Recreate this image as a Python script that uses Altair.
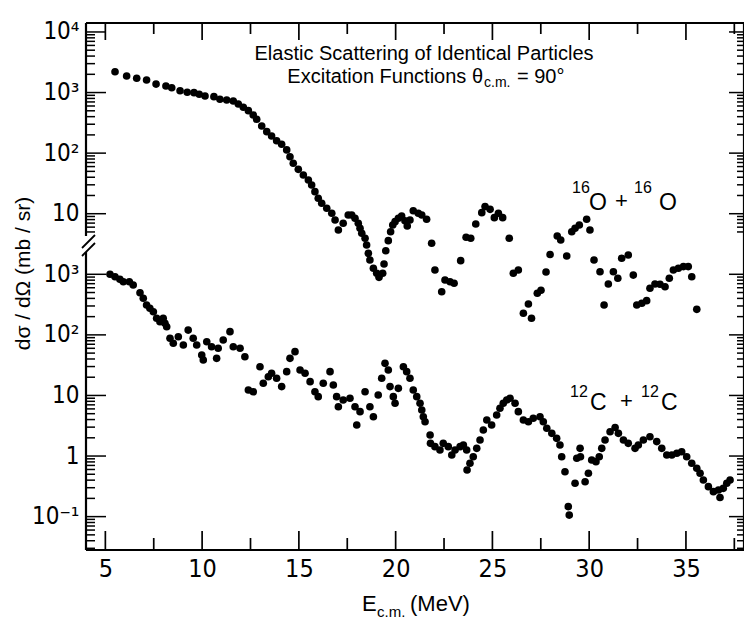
import altair as alt
import pandas as pd
import numpy as np

# ---------------- data ----------------
# 16O + 16O  excitation function, theta_cm = 90 deg  (mb/sr)
E_O = [5.50, 6.10, 6.62, 7.13, 7.62, 8.13, 8.43, 8.86, 9.23, 9.58,
       9.85, 10.15, 10.61, 10.92, 11.27, 11.61, 11.87, 12.13, 12.39, 12.64,
       12.82, 13.08, 13.34, 13.59, 13.85, 14.11, 14.37, 14.54, 14.71, 14.97,
       15.23, 15.49, 15.66, 15.83, 16.00, 16.18, 16.44, 16.70, 16.87, 17.04,
       17.29, 17.55, 17.73, 17.90, 18.07, 18.16, 18.25, 18.42, 18.50, 18.59,
       18.67, 18.85, 19.02, 19.14, 19.33, 19.40, 19.49, 19.62, 19.74, 19.85,
       19.97, 20.14, 20.31, 20.48, 20.60, 20.74, 20.91, 21.17, 21.35, 21.60,
       21.86, 22.03, 22.38, 22.55, 22.81, 23.02, 23.36, 23.64, 23.88, 24.14,
       24.45, 24.62, 24.88, 25.10, 25.31, 25.53, 25.87, 26.08, 26.34, 26.60,
       26.86, 27.02, 27.32, 27.51, 27.77, 27.98, 28.35, 28.53, 28.84, 29.10,
       29.27, 29.49, 29.87, 30.04, 30.25, 30.56, 30.77, 30.99, 31.25, 31.48,
       31.68, 32.02, 32.28, 32.46, 32.72, 32.97, 33.14, 33.40, 33.66, 33.92,
       34.14, 34.35, 34.61, 34.87, 35.12, 35.30, 35.56]
S_O = [2210, 1880, 1720, 1610, 1380, 1280, 1200, 1070, 1010, 995,
       935, 877, 855, 774, 754, 726, 647, 571, 502, 426,
       362, 281, 226, 192, 160, 140, 113, 87.3, 68, 54,
       43.6, 36, 29.8, 23.1, 18, 14.9, 12.3, 10.2, 7.88, 5.39,
       6.95, 9.53, 9.5, 8.40, 6.95, 5.75, 4.75, 3.93, 3.05, 2.22,
       1.72, 1.26, 1.04, 0.89, 1.04, 1.48, 2.45, 3.59, 5.05, 6.51,
       7.39, 8.40, 9.17, 7.67, 6.27, 7.88, 11.2, 10.2, 9.53, 8.09,
       3.25, 1.18, 0.516, 0.805, 0.755, 0.71, 1.68, 4.08, 3.93, 6.77,
       10.4, 13.1, 11.8, 8.60, 10.2, 8.60, 3.93, 1.04, 1.18, 0.227,
       0.323, 0.188, 0.486, 0.544, 1.09, 2.12, 4.29, 3.68, 2.00, 5.05,
       5.75, 6.51, 8.09, 5.39, 1.72, 1.10, 0.311, 0.692, 1.10, 0.859,
       1.84, 2.08, 0.97, 0.311, 0.332, 0.367, 0.587, 0.692, 0.684, 0.624,
       0.859, 1.18, 1.26, 1.34, 1.34, 0.913, 0.264]

# 12C + 12C  excitation function, theta_cm = 90 deg  (mb/sr)
E_C = [5.24, 5.50, 5.75, 5.93, 6.24, 6.44, 6.79, 6.96, 7.13, 7.30,
       7.48, 7.65, 7.82, 7.99, 8.08, 8.17, 8.34, 8.51, 8.77, 9.03,
       9.28, 9.54, 9.72, 9.98, 10.06, 10.24, 10.49, 10.75, 10.83, 11.09,
       11.44, 11.61, 11.96, 12.21, 12.39, 12.64, 12.99, 13.16, 13.42, 13.59,
       13.85, 14.11, 14.37, 14.54, 14.80, 15.06, 15.32, 15.58, 15.83, 16.00,
       16.26, 16.61, 16.78, 16.95, 17.04, 17.29, 17.64, 17.90, 17.99, 18.16,
       18.42, 18.67, 18.85, 19.10, 19.28, 19.45, 19.62, 19.71, 19.88, 19.97,
       20.14, 20.40, 20.57, 20.74, 20.91, 21.09, 21.26, 21.35, 21.43, 21.52,
       21.78, 21.80, 22.03, 22.29, 22.46, 22.72, 22.90, 23.07, 23.33, 23.50,
       23.67, 23.69, 23.84, 24.01, 24.19, 24.36, 24.53, 24.71, 24.96, 25.22,
       25.39, 25.56, 25.74, 25.91, 26.17, 26.34, 26.60, 26.86, 27.11, 27.46,
       27.63, 27.81, 28.07, 28.32, 28.49, 28.58, 28.75, 28.92, 28.97, 29.27,
       29.36, 29.53, 29.55, 29.79, 29.96, 30.13, 30.35, 30.52, 30.65, 30.82,
       31.08, 31.34, 31.51, 31.77, 32.02, 32.37, 32.54, 32.80, 33.14, 33.49,
       33.75, 34.01, 34.27, 34.53, 34.78, 35.04, 35.30, 35.56, 35.73, 35.90,
       36.16, 36.42, 36.68, 36.76, 36.93, 37.11, 37.28]
S_C = [1000, 913, 827, 755, 755, 666, 497, 402, 311, 275,
       241, 188, 165, 188, 155, 136, 87.9, 72.6, 93.3, 68.1,
       120, 87.9, 68.1, 46.5, 38.5, 77.1, 63.8, 41.0, 60.0, 82.3,
       113, 63.8, 60.0, 43.6, 12.3, 11.5, 29.8, 15.9, 20.4, 23.2,
       19.2, 14.0, 24.7, 41.0, 52.8, 26.3, 23.2, 16.9, 11.5, 9.55,
       15.9, 24.7, 14.9, 9.55, 6.52, 8.41, 8.97, 6.52, 3.25, 5.40,
       11.5, 6.52, 4.46, 10.2, 19.2, 33.9, 26.3, 14.0, 9.55, 7.43,
       13.1, 29.8, 24.7, 19.2, 12.3, 9.55, 7.43, 5.75, 4.46, 3.69,
       2.22, 1.62, 1.43, 1.26, 1.62, 1.43, 1.04, 1.26, 1.43, 1.52,
       1.26, 0.589, 0.759, 0.975, 1.34, 1.84, 2.69, 3.94, 3.25, 4.76,
       6.14, 7.43, 8.41, 8.97, 7.43, 5.40, 3.94, 3.69, 4.20, 4.46,
       3.69, 2.87, 2.37, 1.96, 1.52, 0.975, 0.551, 0.146, 0.106, 0.355,
       0.918, 1.34, 0.975, 0.377, 0.519, 0.861, 0.807, 0.975, 1.34, 1.84,
       2.52, 2.96, 2.37, 1.84, 1.62, 1.34, 1.52, 1.84, 2.08, 1.73,
       1.34, 1.04, 1.04, 1.11, 1.18, 0.975, 0.759, 0.628, 0.519, 0.402,
       0.312, 0.258, 0.275, 0.207, 0.293, 0.355, 0.402]

# axis ticks / labels
X_MAJOR = [5, 10, 15, 20, 25, 30, 35]
X_MINOR = [7.5, 12.5, 17.5, 22.5, 27.5, 32.5, 37.5]
Y_LOWER_MAJOR = [0.1, 1, 10, 100, 1000]          # 12C+12C scale
Y_UPPER_MAJOR = [10, 100, 1000, 10000]           # 16O+16O scale
OFFSET = 1000.0   # upper curve drawn three decades above the lower one

# ---------------- geometry ----------------
W, H = 658, 527
LOGMIN, LOGMAX = -1.551, 7.148

df = pd.concat([
    pd.DataFrame({"E": E_O, "v": np.array(S_O) * OFFSET, "set": "16O+16O"}),
    pd.DataFrame({"E": E_C, "v": np.array(S_C, dtype=float), "set": "12C+12C"}),
], ignore_index=True)

xs = alt.Scale(domain=[4, 38], nice=False, zero=False)
ys = alt.Scale(type="log", domain=[10 ** LOGMIN, 10 ** LOGMAX], nice=False)

NARROW = "Liberation Sans Narrow, Arial Narrow, DejaVu Sans Condensed, Liberation Sans, sans-serif"
SANS = "Liberation Sans, Arial, Helvetica, sans-serif"

ylab_vals = Y_LOWER_MAJOR + [v * OFFSET for v in Y_UPPER_MAJOR]
label_expr = ("datum.value < 0.5 ? '10⁻¹' : datum.value < 5 ? '1' : datum.value < 50 ? '10' : "
              "datum.value < 500 ? '10²' : datum.value < 5000 ? '10³' : datum.value < 50000 ? '10' : "
              "datum.value < 500000 ? '10²' : datum.value < 5000000 ? '10³' : '10⁴'")

xaxis = alt.Axis(values=X_MAJOR, title=None, ticks=False, domain=False, grid=False,
                 labelFont=NARROW, labelFontSize=25, labelPadding=6, labelColor="black",
                 format="d", labelFlush=False)
yaxis = alt.Axis(values=ylab_vals, labelExpr=label_expr, ticks=False, domain=False, grid=False,
                 labelFont=NARROW, labelFontSize=24, labelPadding=7, labelColor="black",
                 title="dσ / dΩ  (mb / sr)", titleFont=SANS, titleFontSize=21,
                 titleFontWeight="normal", titleColor="black", titleAngle=270,
                 titleX=-63, titleY=250, titleAlign="center", titleBaseline="middle")

points = alt.Chart(df).mark_circle(size=58, color="black", opacity=1).encode(
    x=alt.X("E:Q", scale=xs, axis=xaxis),
    y=alt.Y("v:Q", scale=ys, axis=yaxis),
)

# tick positions (in data units)
lower_minor = [m * 10.0 ** k for k in range(-2, 3) for m in range(2, 10)]
lower_minor = [v for v in lower_minor if v > 10 ** LOGMIN]
upper_minor = [m * 10.0 ** k * OFFSET for k in range(0, 4) for m in range(2, 10)]
upper_minor = [v for v in upper_minor if v >= 5 * OFFSET and v < 10 ** LOGMAX]
y_major = Y_LOWER_MAJOR + [v * OFFSET for v in Y_UPPER_MAJOR]
y_minor = lower_minor + upper_minor


def xticks(vals, y1, y2):
    return alt.Chart(pd.DataFrame({"E": vals})).mark_rule(color="black", strokeWidth=1.7).encode(
        x=alt.X("E:Q", scale=xs, axis=xaxis), y=alt.value(y1), y2=alt.value(y2))


def yticks(vals, x1, x2):
    return alt.Chart(pd.DataFrame({"v": vals})).mark_rule(color="black", strokeWidth=1.5).encode(
        y=alt.Y("v:Q", scale=ys, axis=yaxis), x=alt.value(x1), x2=alt.value(x2))


one = pd.DataFrame({"k": [0]})


def seg(x1, y1, x2, y2, w=2.2):
    return alt.Chart(one).mark_rule(color="black", strokeWidth=w).encode(
        x=alt.value(x1), y=alt.value(y1), x2=alt.value(x2), y2=alt.value(y2))


def txt(s, x, y, size, align="left", font=SANS):
    return alt.Chart(pd.DataFrame({"t": [s]})).mark_text(
        align=align, baseline="alphabetic", font=font, fontSize=size, color="black").encode(
        text="t:N", x=alt.value(x), y=alt.value(y))


layers = [
    # ticks
    xticks(X_MAJOR, H, H - 19), xticks(X_MINOR, H, H - 12),
    xticks(X_MAJOR, 0, 17), xticks(X_MINOR, 0, 11),
    yticks(y_major, 0, 20), yticks(y_minor, 0, 9),
    yticks(y_major, W, W - 15), yticks(y_minor, W, W - 7),
    # frame with broken left axis
    seg(0, 0, W, 0), seg(0, H, W, H), seg(W, 0, W, H),
    seg(0, 0, 0, 213), seg(0, 229, 0, H),
    seg(-4, 225, 9, 212, 1.8), seg(-4, 233, 9, 220, 1.8),
    points,
    # title
    txt("Elastic Scattering of Identical Particles", 338, 36.5, 20, align="center"),
    txt("Excitation Functions  θ", 397, 60, 20, align="right"),
    txt("c.m.", 398, 64, 14),
    txt("= 90°", 431, 60, 20),
    # series labels
    txt("16", 486, 170, 16), txt("O", 503, 187, 23), txt("+", 529, 185, 22),
    txt("16", 548, 170, 16), txt("O", 573, 187, 23),
    txt("12", 484, 374, 16), txt("C", 504, 387, 23), txt("+", 534, 385, 22),
    txt("12", 555, 374, 16), txt("C", 575, 387, 23),
    # x-axis title
    txt("E", 276, 588, 22), txt("c.m.", 291, 594, 15), txt("(MeV)", 324, 588, 22),
]

chart = alt.layer(*layers).properties(
    width=W, height=H,
    padding={"left": 86, "top": 23, "right": 0, "bottom": 72},
    autosize=alt.AutoSizeParams(type="none"),
    background="white",
).configure_view(stroke=None)

chart.save("out.html", embed_options={"renderer": "svg", "actions": False})
